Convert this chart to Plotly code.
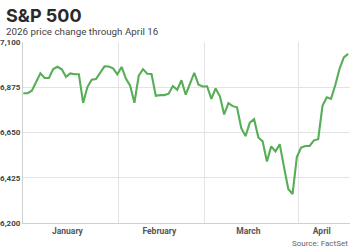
import plotly.graph_objects as go
import pandas as pd
import numpy as np

# S&P 500 daily closes (holidays carry the previous close, as drawn)
dec_close = [6845.5]
jan_close = [6845.5, 6858, 6902, 6944, 6921, 6921, 6966, 6977, 6964, 6927, 6944,
             6940, 6940, 6797, 6876, 6913, 6916, 6945, 6979, 6978, 6969, 6939]
feb_close = [6976, 6918, 6883, 6798, 6932, 6965, 6942, 6941, 6833, 6836,
             6836, 6843, 6881, 6862, 6910, 6838, 6890, 6946, 6888, 6879]
mar_close = [6880, 6817, 6869, 6830, 6740, 6796, 6781, 6775, 6672, 6632, 6699,
             6716, 6625, 6606, 6506, 6581, 6556, 6592, 6478, 6369, 6344, 6528]
apr_close = [6575, 6583, 6583, 6611, 6617, 6783, 6825, 6817, 6886, 6967, 7023, 7041]

closes = dec_close + jan_close + feb_close + mar_close + apr_close
trade_dates = pd.bdate_range("2025-12-31", "2026-04-16")
assert len(trade_dates) == len(closes)

y_ticks = [6200, 6425, 6650, 6875, 7100]
y_tick_labels = ["6,200", "6,425", "6,650", "6,875", "7,100"]
month_labels = ["January", "February", "March", "April"]

title_text = "S&P 500"
subtitle_text = "2026 price change through April 16"
source_text = "Source: FactSet"

# weekday axis: position = weekdays since start, plus time of day (close 16:00)
ORIGIN = np.datetime64("2025-12-31")


def wd_pos(ts):
    ts = pd.Timestamp(ts)
    d = np.datetime64(ts.date())
    return float(np.busday_count(ORIGIN, d)) + (ts.hour + ts.minute / 60) / 24


close_pos = [wd_pos(d + pd.Timedelta(hours=16)) for d in trade_dates]

# layout helpers (label placement & month boundaries)
month_label_pos = [wd_pos(t) for t in ["2026-01-15 00:00", "2026-02-13 12:00",
                                       "2026-03-16 08:00", "2026-04-08 12:00"]]
month_bounds = [wd_pos(t) for t in ["2026-02-02", "2026-03-02", "2026-04-01"]]

W, H = 350, 250
L, R, T, B = 19, 0, 42, 27
pw, ph = W - L - R, H - T - B


def px_x(p):
    return (p - L) / pw


def px_y(p):
    return (H - B - p) / ph


fig = go.Figure(
    go.Scatter(
        x=close_pos, y=closes, mode="lines",
        line=dict(color="#58ad58", width=2.1),
        hoverinfo="skip",
    )
)

grid = "#e3e3e3"
axis_c = "#cfcfcf"
fig.update_layout(
    width=W, height=H,
    margin=dict(l=L, r=R, t=T, b=B, pad=0),
    paper_bgcolor="white", plot_bgcolor="white",
    showlegend=False,
    font=dict(family="Roboto"),
    xaxis=dict(
        range=[close_pos[0] - 0.07, close_pos[-1] + 0.44],
        tickmode="array", tickvals=month_label_pos, ticktext=month_labels,
        showgrid=False, zeroline=False,
        showline=True, linecolor=axis_c, linewidth=1,
        ticks="",
        tickfont=dict(family="Roboto", size=8.5, color="#555555", weight="bold"),
        minor=dict(tickmode="array", tickvals=month_bounds, showgrid=True,
                   gridcolor=grid, gridwidth=1, ticks=""),
        fixedrange=True,
    ),
    yaxis=dict(
        range=[6200, 7100],
        tickmode="array", tickvals=y_ticks, ticktext=y_tick_labels,
        showgrid=True, gridcolor=grid, gridwidth=1, zeroline=False,
        showline=True, linecolor=axis_c, linewidth=1,
        ticks="",
        tickfont=dict(family="Roboto", size=8, color="#444444", weight="bold"),
        fixedrange=True,
    ),
    annotations=[
        dict(text=title_text, xref="paper", yref="paper", x=px_x(0), y=px_y(15),
             xanchor="left", yanchor="middle", showarrow=False,
             font=dict(family="Inter", size=18, color="#2a2a2a", weight="bold")),
        dict(text=subtitle_text, xref="paper", yref="paper", x=px_x(0), y=px_y(31),
             xanchor="left", yanchor="middle", showarrow=False,
             font=dict(family="Roboto", size=9.8, color="#444444")),
        dict(text=source_text, xref="paper", yref="paper", x=px_x(350), y=px_y(243),
             xanchor="right", yanchor="middle", showarrow=False,
             font=dict(family="Roboto", size=8, color="#666666")),
    ],
)

fig.write_html("out.html", config={"displayModeBar": False})
